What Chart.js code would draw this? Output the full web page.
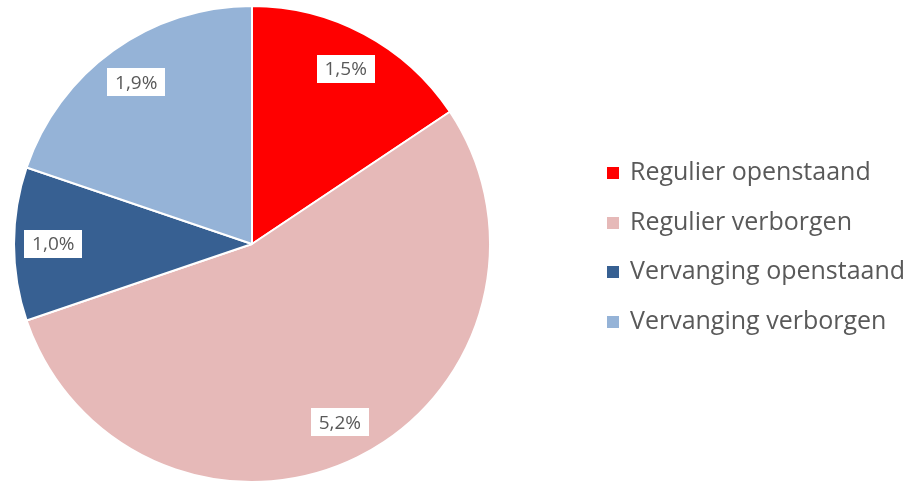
<!DOCTYPE html>
<html>
<head>
<meta charset="utf-8">
<script src="https://cdn.jsdelivr.net/npm/chart.js@4"></script>
<style>
  html, body { margin: 0; padding: 0; background: #ffffff; }
  #wrap { width: 920px; height: 483px; position: relative; }
</style>
</head>
<body>
<div id="wrap"><canvas id="pieChart"></canvas></div>
<script>
// Share of each category (percent)
const categories = ["Regulier openstaand", "Regulier verborgen", "Vervanging openstaand", "Vervanging verborgen"];
const shares = [1.5, 5.2, 1.0, 1.9];
const sliceColors = ["#FF0000", "#E6B9B8", "#376092", "#95B3D7"];

const textColor = '#595959';
const fontFamily = "'Open Sans', sans-serif";

// Value boxes inside each slice, placed along the slice's middle angle
const valueLabels = {
    id: 'valueLabels',
    afterDatasetsDraw(chart) {
        const ctx = chart.ctx;
        const meta = chart.getDatasetMeta(0);
        ctx.save();
        ctx.font = '19px ' + fontFamily;
        ctx.textAlign = 'center';
        ctx.textBaseline = 'middle';
        meta.data.forEach((arc, i) => {
            const p = arc.getProps(['x', 'y', 'startAngle', 'endAngle', 'outerRadius'], true);
            const mid = (p.startAngle + p.endAngle) / 2;
            const r = p.outerRadius * 0.835;
            const x = p.x + Math.cos(mid) * r;
            const y = p.y + Math.sin(mid) * r;
            const text = shares[i].toFixed(1).replace('.', ',') + '%';
            const w = ctx.measureText(text).width + 16;
            const h = 28;
            ctx.fillStyle = '#ffffff';
            ctx.fillRect(Math.round(x - w / 2), Math.round(y - h / 2), Math.round(w), h);
            ctx.fillStyle = textColor;
            ctx.fillText(text, x, y + 1);
        });
        ctx.restore();
    }
};

// Legend on the right with small square markers
const sideLegend = {
    id: 'sideLegend',
    afterDraw(chart) {
        const ctx = chart.ctx;
        const left = 607;
        const top = 173;
        const step = 49.5;
        ctx.save();
        ctx.font = '25px ' + fontFamily;
        ctx.textAlign = 'left';
        ctx.textBaseline = 'middle';
        chart.data.labels.forEach((label, i) => {
            const cy = top + i * step;
            ctx.fillStyle = sliceColors[i];
            ctx.fillRect(left, Math.round(cy - 6), 12, 12);
            ctx.fillStyle = textColor;
            ctx.fillText(label, left + 23, cy);
        });
        ctx.restore();
    }
};

const pieCtx = document.getElementById('pieChart').getContext('2d');
new Chart(pieCtx, {
    type: 'pie',
    data: {
        labels: categories,
        datasets: [{
            data: shares,
            backgroundColor: sliceColors,
            borderColor: '#ffffff',
            borderWidth: 2
        }]
    },
    options: {
        responsive: true,
        maintainAspectRatio: false,
        animation: false,
        layout: {
            padding: { left: 13, top: 5, bottom: 0, right: 429 }
        },
        plugins: {
            legend: { display: false },
            tooltip: { enabled: false }
        }
    },
    plugins: [valueLabels, sideLegend]
});
</script>
</body>
</html>
